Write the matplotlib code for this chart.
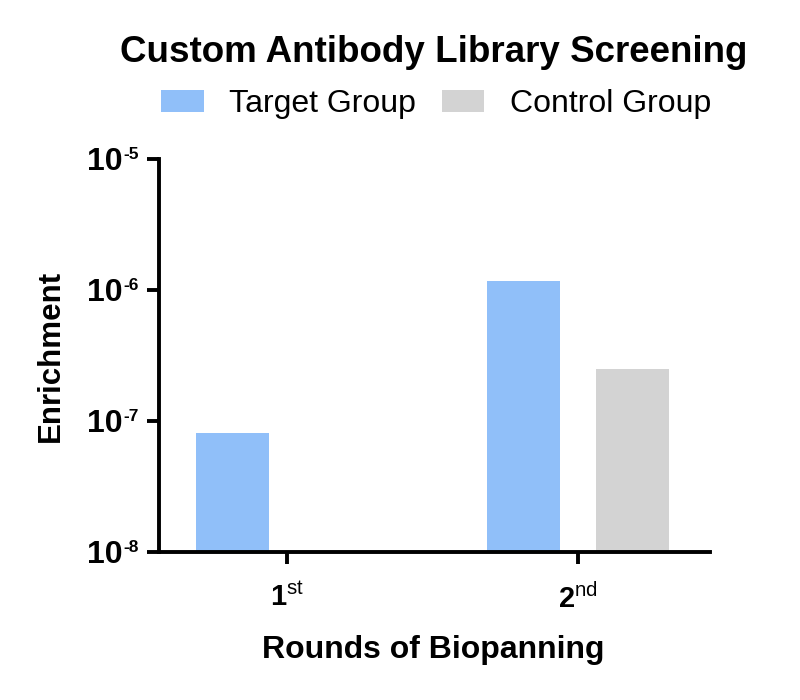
import matplotlib
matplotlib.use("Agg")
import matplotlib.pyplot as plt
import matplotlib.transforms as mtransforms
import numpy as np
from matplotlib.patches import Patch
from matplotlib.ticker import FixedLocator, NullLocator, NullFormatter

plt.rcParams['font.family'] = ['Liberation Sans', 'DejaVu Sans']
plt.rcParams['mathtext.fontset'] = 'custom'
plt.rcParams['mathtext.rm'] = 'Liberation Sans'
plt.rcParams['mathtext.bf'] = 'Liberation Sans:bold'
plt.rcParams['mathtext.it'] = 'Liberation Sans:italic'

rounds = ["1", "2"]
suffixes = ["st", "nd"]
series_names = ["Target Group", "Control Group"]
target_values = [7.15e-8, 1.17e-6]
control_values = [np.nan, 2.38e-7]
colors = ["#90BFF9", "#D3D3D3"]
ytick_exponents = [-8, -7, -6, -5]

DPI = 100
fig = plt.figure(figsize=(8, 7), dpi=DPI)
ax = fig.add_axes([0.199, 0.2114, 0.6885, 0.5615])

x = np.arange(len(rounds))
width = 0.251
offset = 0.189
ax.bar(x - offset, target_values, width, color=colors[0], bottom=1e-8)
ax.bar(x + offset, control_values, width, color=colors[1], bottom=1e-8)

ax.set_yscale('log')
ax.set_ylim(1e-8, 1e-5)
ax.set_xlim(-0.44, 1.454)

# y ticks with hand-built "10" + superscript exponent labels
ticks = [10.0 ** e for e in ytick_exponents]
ax.yaxis.set_major_locator(FixedLocator(ticks))
ax.yaxis.set_major_formatter(NullFormatter())
ax.yaxis.set_minor_locator(NullLocator())
ax.yaxis.set_minor_formatter(NullFormatter())
trans = mtransforms.blended_transform_factory(ax.transAxes, ax.transData)
for e, t in zip(ytick_exponents, ticks):
    base_tr = trans + mtransforms.ScaledTranslation(-37 / DPI, -11 / DPI, fig.dpi_scale_trans)
    ax.text(0, t, "10", transform=base_tr, ha='right', va='baseline',
            fontsize=23, fontweight='bold', clip_on=False)
    sup_tr = trans + mtransforms.ScaledTranslation(-36 / DPI, 0 / DPI, fig.dpi_scale_trans)
    ax.text(0, t, "-%d" % abs(e), transform=sup_tr, ha='left', va='baseline',
            fontsize=12.5, fontweight='bold', clip_on=False)

ax.set_xticks(x)
ax.set_xticklabels([r"$\mathbf{%s}^{\mathrm{%s}}$" % (r, s) for r, s in zip(rounds, suffixes)])

for sp in ['top', 'right']:
    ax.spines[sp].set_visible(False)
for sp in ['left', 'bottom']:
    ax.spines[sp].set_linewidth(2.8)
ax.tick_params(axis='both', which='major', width=2.8, length=8.5, direction='out', colors='black')
ax.tick_params(axis='x', labelsize=21, pad=14)

fig.text(59 / 800, 1 - 355.5 / 700, "Enrichment", rotation=90, rotation_mode='anchor',
         ha='center', va='baseline', fontsize=22.5, fontweight='bold')
fig.text(0.541, 1 - 658 / 700, "Rounds of Biopanning", ha='center', va='baseline',
         fontsize=23, fontweight='bold')

fig.text(0.542, 1 - 62 / 700, "Custom Antibody Library Screening", ha='center', va='baseline',
         fontsize=26.5, fontweight='bold')

handles = [Patch(facecolor=colors[0], edgecolor='none'), Patch(facecolor=colors[1], edgecolor='none')]
fig.legend(handles, series_names, loc='center', bbox_to_anchor=(0.545, 1 - 104 / 700), ncol=2,
           frameon=False, fontsize=23, handlelength=1.33, handleheight=0.66,
           handletextpad=0.8, columnspacing=0.8, borderpad=0, borderaxespad=0)

fig.savefig("out.png", dpi=DPI)
